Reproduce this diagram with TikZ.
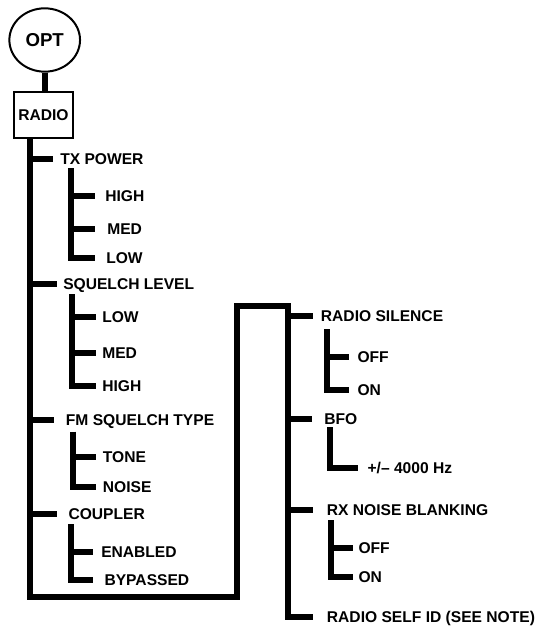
\documentclass[tikz,border=0pt]{standalone}
\usepackage{fontspec}
\setmainfont{Liberation Sans}
\usetikzlibrary{shapes.geometric}

\begin{document}
\begin{tikzpicture}[x=0.75pt,y=-0.75pt,
	lbl/.style={anchor=west,inner sep=0pt,%
		text height=8.4pt,text depth=0pt,%
		font=\bfseries\fontsize{11.7}{13}\selectfont},
	tree/.style={line width=4.5pt,line join=miter}]
	\useasboundingbox (0,0) rectangle (540,635);
	
	% head of the menu
	\node[draw,ellipse,line width=1.5pt,inner sep=0pt,%
		minimum width=53pt,minimum height=47.5pt,%
		font=\bfseries\fontsize{14}{16}\selectfont] (opt) at (44.7,40) {OPT};
	\node[draw,line width=1.5pt,inner sep=0pt,%
		minimum width=44.5pt,minimum height=34.7pt,%
		font=\bfseries\fontsize{11.7}{13}\selectfont] (radio) at (43.4,115.2) {RADIO};
	\draw[tree] (opt.south) -- (opt.south |- radio.north);
	
	% left column
	\node[lbl] (txp) at (60,158.5) {TX POWER};
	\node[lbl] (hi1) at (105,196) {HIGH};
	\node[lbl] (me1) at (107,229) {MED};
	\node[lbl] (lo1) at (106,258) {LOW};
	\node[lbl] (sql) at (63,283.5) {SQUELCH LEVEL};
	\node[lbl] (lo2) at (102,316.5) {LOW};
	\node[lbl] (me2) at (102,352.7) {MED};
	\node[lbl] (hi2) at (102,385.5) {HIGH};
	\node[lbl] (fmt) at (65.7,420) {FM SQUELCH TYPE};
	\node[lbl] (ton) at (102.7,456.5) {TONE};
	\node[lbl] (noi) at (102.7,487) {NOISE};
	\node[lbl] (cpl) at (68.3,514) {COUPLER};
	\node[lbl] (ena) at (101,551.5) {ENABLED};
	\node[lbl] (byp) at (104.3,580) {BYPASSED};
	
	% right column
	\node[lbl] (rsl) at (320.7,316) {RADIO SILENCE};
	\node[lbl] (of1) at (357.3,356.5) {OFF};
	\node[lbl] (on1) at (357.3,389.5) {ON};
	\node[lbl] (bfo) at (324,419) {BFO};
	\node[lbl] (bfh) at (367.3,467.5) {+/– 4000 Hz};
	\node[lbl] (rxn) at (326.7,510) {RX NOISE BLANKING};
	\node[lbl] (of2) at (358.3,547.5) {OFF};
	\node[lbl] (on2) at (358.3,577) {ON};
	\node[lbl] (sid) at (326.7,617) {RADIO SELF ID (SEE NOTE)};
	
	\coordinate (main) at (29.7,138.4);
	\coordinate (lb) at (236.5,597);
	\coordinate (rt) at (288,305.5);
	\coordinate (s1) at (71,168);
	\coordinate (s2) at (72,294);
	\coordinate (s3) at (73,431.7);
	\coordinate (s4) at (71,524);
	\coordinate (s5) at (327,329);
	\coordinate (s6) at (330,427.3);
	\coordinate (s7) at (331,520);
	
	% trunks
	\draw[tree] (main) |- (lb) |- (rt) |- ([xshift=-13.4*0.75pt]sid.west);
	\draw[tree] (s1) |- ([xshift=-11*0.75pt]lo1.west);
	\draw[tree] (s2) |- ([xshift=-6*0.75pt]hi2.west);
	\draw[tree] (s3) |- ([xshift=-7*0.75pt]noi.west);
	\draw[tree] (s4) |- ([xshift=-11*0.75pt]byp.west);
	\draw[tree] (s5) |- ([xshift=-8*0.75pt]on1.west);
	\draw[tree] (s6) |- ([xshift=-9.6*0.75pt]bfh.west);
	\draw[tree] (s7) |- ([xshift=-5*0.75pt]on2.west);
	
	% branches
	\foreach \t/\g in {txp/7,sql/6,fmt/12,cpl/11}
		\draw[tree] (main |- \t) -- ([xshift=-\g*0.75pt]\t.west);
	\foreach \t/\g in {rsl/7.4,bfo/12.3,rxn/13.4}
		\draw[tree] (rt |- \t) -- ([xshift=-\g*0.75pt]\t.west);
	\foreach \t/\g in {hi1/10,me1/12}
		\draw[tree] (s1 |- \t) -- ([xshift=-\g*0.75pt]\t.west);
	\foreach \t in {lo2,me2}
		\draw[tree] (s2 |- \t) -- ([xshift=-6*0.75pt]\t.west);
	\draw[tree] (s3 |- ton) -- ([xshift=-7*0.75pt]ton.west);
	\draw[tree] (s4 |- ena) -- ([xshift=-8*0.75pt]ena.west);
	\draw[tree] (s5 |- of1) -- ([xshift=-8*0.75pt]of1.west);
	\draw[tree] (s7 |- of2) -- ([xshift=-5*0.75pt]of2.west);
\end{tikzpicture}
\end{document}
